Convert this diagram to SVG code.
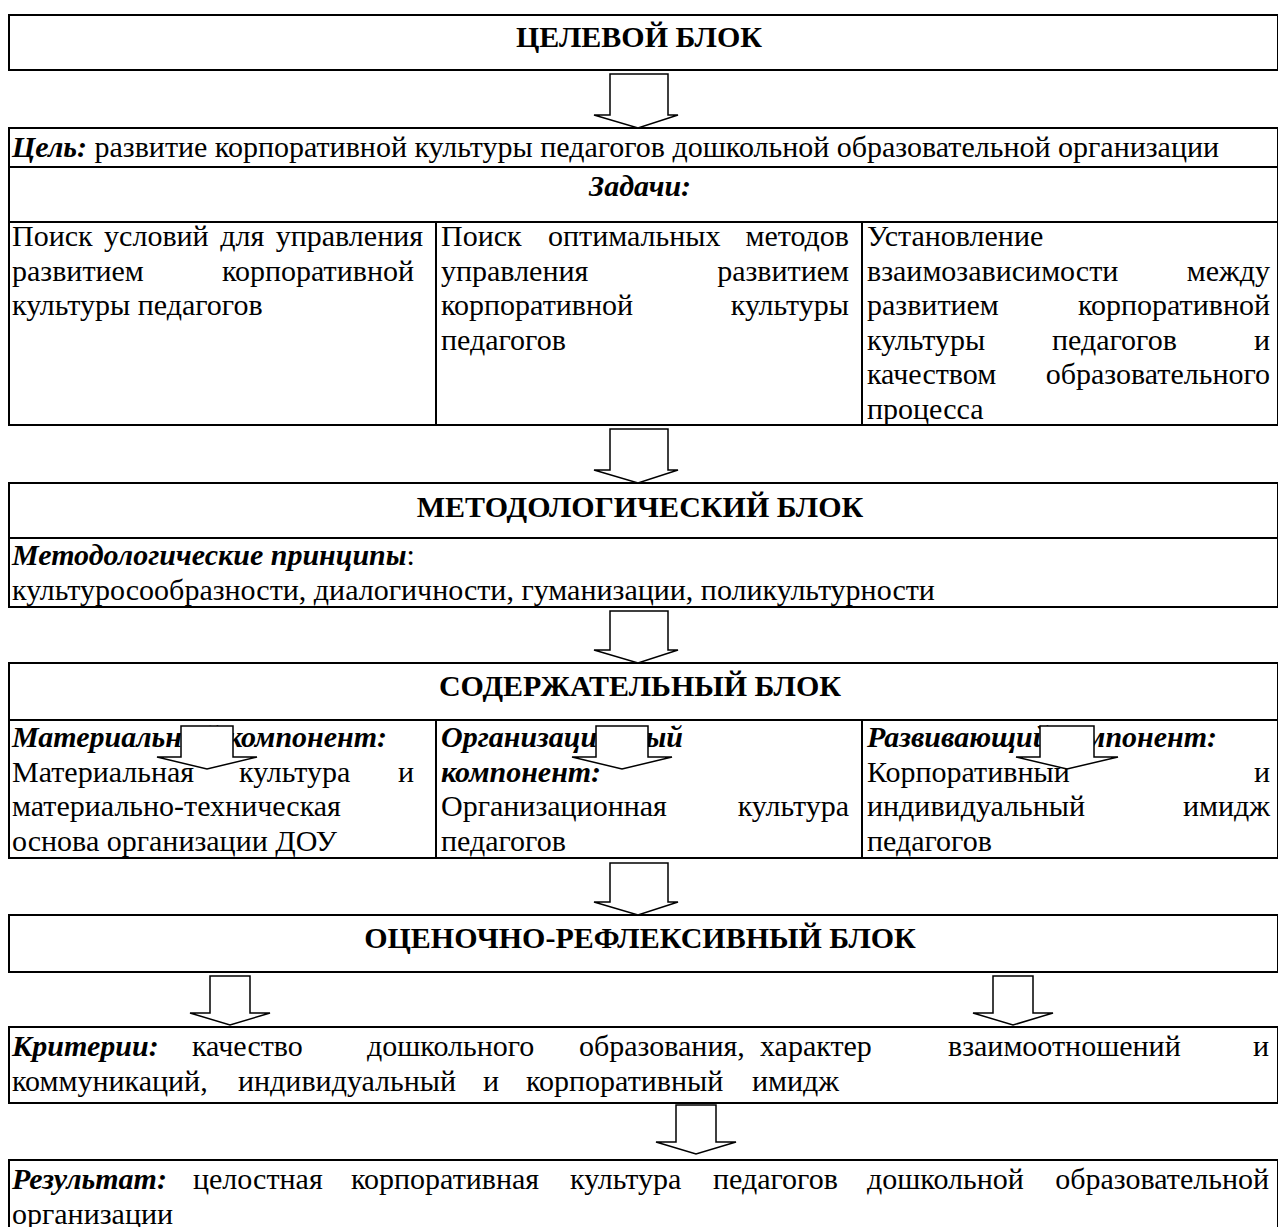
<svg xmlns="http://www.w3.org/2000/svg" width="1278" height="1227" viewBox="0 0 1278 1227">
<style>
text{font-family:"Liberation Serif","Times New Roman",serif;font-size:30px;fill:#000}
.b{font-weight:bold}
.bi{font-weight:bold;font-style:italic}
.e{text-anchor:end}
.c{text-anchor:middle}
.box{fill:#fff;stroke:#000;stroke-width:2}
.ln{stroke:#000;stroke-width:2;fill:none}
.arr{fill:#fff;stroke:#000;stroke-width:1.5;stroke-linejoin:miter}
</style>
<rect width="1278" height="1227" fill="#fff"/>

<g id="n-target">
<rect class="box" x="9" y="15" width="1269" height="55"/>
<text class="b c" x="639" y="47">ЦЕЛЕВОЙ БЛОК</text>
</g>

<g id="n-goal-tasks">
<rect class="box" x="9" y="128" width="1269" height="297"/>
<line class="ln" x1="9" y1="167" x2="1278" y2="167"/>
<line class="ln" x1="9" y1="222" x2="1278" y2="222"/>
<line class="ln" x1="436" y1="222" x2="436" y2="425"/>
<line class="ln" x1="862" y1="222" x2="862" y2="425"/>
<text x="12" y="157"><tspan class="bi">Цель:</tspan> развитие корпоративной культуры педагогов дошкольной образовательной организации</text>
<text class="bi c" x="640" y="196">Задачи:</text>
<text y="246"><tspan x="12" style="word-spacing:4px">Поиск условий для управления</tspan></text>
<text y="280.5"><tspan x="12">развитием</tspan><tspan class="e" x="414">корпоративной</tspan></text>
<text x="12" y="315">культуры педагогов</text>
<text y="246"><tspan x="441">Поиск</tspan><tspan x="548">оптимальных</tspan><tspan class="e" x="849">методов</tspan></text>
<text y="280.5"><tspan x="441">управления</tspan><tspan class="e" x="849">развитием</tspan></text>
<text y="315"><tspan x="441">корпоративной</tspan><tspan class="e" x="849">культуры</tspan></text>
<text x="441" y="349.5">педагогов</text>
<text x="867" y="246">Установление</text>
<text y="280.5"><tspan x="867">взаимозависимости</tspan><tspan class="e" x="1270">между</tspan></text>
<text y="315"><tspan x="867">развитием</tspan><tspan class="e" x="1270">корпоративной</tspan></text>
<text y="349.5"><tspan x="867">культуры</tspan><tspan x="1052">педагогов</tspan><tspan class="e" x="1270">и</tspan></text>
<text y="384"><tspan x="867">качеством</tspan><tspan class="e" x="1270">образовательного</tspan></text>
<text x="867" y="418.5">процесса</text>
</g>

<g id="n-methodology">
<rect class="box" x="9" y="483" width="1269" height="124"/>
<line class="ln" x1="9" y1="538" x2="1278" y2="538"/>
<text class="b c" x="640" y="517">МЕТОДОЛОГИЧЕСКИЙ БЛОК</text>
<text x="12" y="565"><tspan class="bi">Методологические принципы</tspan>:</text>
<text x="12" y="599.5">культуросообразности, диалогичности, гуманизации, поликультурности</text>
</g>

<g id="n-content">
<rect class="box" x="9" y="663" width="1269" height="195"/>
<line class="ln" x1="9" y1="720" x2="1278" y2="720"/>
<line class="ln" x1="436" y1="720" x2="436" y2="858"/>
<line class="ln" x1="862" y1="720" x2="862" y2="858"/>
<text class="b c" x="640" y="696">СОДЕРЖАТЕЛЬНЫЙ БЛОК</text>
<text class="bi" x="12" y="747">Материальный компонент:</text>
<text y="781.5"><tspan x="12">Материальная</tspan><tspan x="239">культура</tspan><tspan class="e" x="414">и</tspan></text>
<text x="12" y="816">материально-техническая</text>
<text x="12" y="850.5">основа организации ДОУ</text>
<text class="bi" x="441" y="747">Организационный</text>
<text class="bi" x="441" y="781.5">компонент:</text>
<text y="816"><tspan x="441">Организационная</tspan><tspan class="e" x="849">культура</tspan></text>
<text x="441" y="850.5">педагогов</text>
<text class="bi" x="867" y="747">Развивающий компонент:</text>
<text y="781.5"><tspan x="867">Корпоративный</tspan><tspan class="e" x="1270">и</tspan></text>
<text y="816"><tspan x="867">индивидуальный</tspan><tspan class="e" x="1270">имидж</tspan></text>
<text x="867" y="850.5">педагогов</text>
</g>

<g id="n-evaluation">
<rect class="box" x="9" y="915" width="1269" height="57"/>
<text class="b c" x="640" y="948">ОЦЕНОЧНО-РЕФЛЕКСИВНЫЙ БЛОК</text>
</g>

<g id="n-criteria">
<rect class="box" x="9" y="1027" width="1269" height="76"/>
<text y="1056"><tspan class="bi" x="12">Критерии:</tspan><tspan x="192">качество</tspan><tspan x="367">дошкольного</tspan><tspan x="579">образования,</tspan><tspan x="760">характер</tspan><tspan x="948">взаимоотношений</tspan><tspan class="e" x="1269">и</tspan></text>
<text y="1090.5"><tspan x="12">коммуникаций,</tspan><tspan x="238">индивидуальный</tspan><tspan x="483">и</tspan><tspan x="526">корпоративный</tspan><tspan x="752">имидж</tspan></text>
</g>

<g id="n-result">
<rect class="box" x="9" y="1160" width="1269" height="90"/>
<text y="1189"><tspan class="bi" x="12">Результат:</tspan><tspan x="193">целостная</tspan><tspan x="351">корпоративная</tspan><tspan x="570">культура</tspan><tspan x="713">педагогов</tspan><tspan x="867">дошкольной</tspan><tspan class="e" x="1269">образовательной</tspan></text>
<text x="12" y="1223.5">организации</text>
</g>

<g id="connectors">
<path class="arr" d="M610,74 H668 V115 H678 L638,128 L594,115 H610 Z"/>
<path class="arr" d="M610,429 H668 V470 H678 L638,483 L594,470 H610 Z"/>
<path class="arr" d="M610,611 H668 V650 H678 L638,663 L594,650 H610 Z"/>
<path class="arr" d="M610,863 H668 V902 H678 L638,915 L594,902 H610 Z"/>
<path class="arr" d="M210,976 H250 V1013 H270 L230,1025 L190,1013 H210 Z"/>
<path class="arr" d="M993,976 H1033 V1013 H1053 L1013,1025 L973,1013 H993 Z"/>
<path class="arr" d="M676,1105 H716 V1142 H736 L696,1154 L656,1142 H676 Z"/>
<path class="arr" d="M181,726 H233 V757 H257 L207,769 L157,757 H181 Z"/>
<path class="arr" d="M596,726 H648 V757 H672 L622,769 L572,757 H596 Z"/>
<path class="arr" d="M1040,726 H1094 V757 H1118 L1067,769 L1016,757 H1040 Z"/>
</g>
</svg>
